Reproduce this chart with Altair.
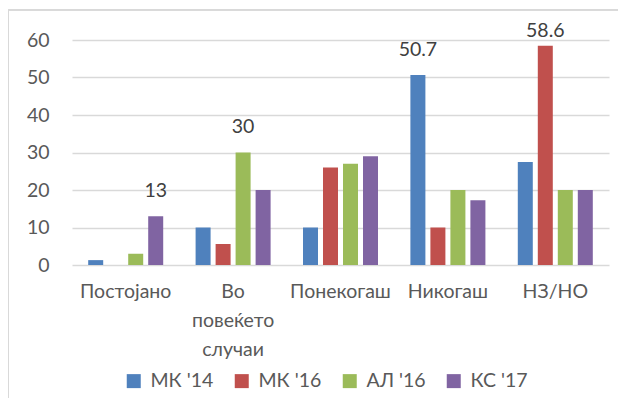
import altair as alt
import pandas as pd

categories = ["Постојано", "Во повеќето случаи", "Понекогаш", "Никогаш", "НЗ/НО"]
series = ["МК '14", "МК '16", "АЛ '16", "КС '17"]
mk14 = [1.3, 10, 10, 50.7, 27.5]
mk16 = [0, 5.6, 26, 10, 58.5]
al16 = [3, 30, 27, 20, 20]
ks17 = [13, 20, 29, 17.3, 20]
shown_labels = [("Постојано", "КС '17", "13"), ("Во повеќето случаи", "АЛ '16", "30"),
                ("Никогаш", "МК '14", "50.7"), ("НЗ/НО", "МК '16", "58.6")]
colors = ["#4F81BD", "#C0504D", "#9BBB59", "#8064A2"]

rows = []
for s, vals in zip(series, [mk14, mk16, al16, ks17]):
    for c, v in zip(categories, vals):
        lab = ""
        for (lc, ls, lt) in shown_labels:
            if lc == c and ls == s:
                lab = lt
        rows.append({"cat": c, "series": s, "value": v, "label": lab})
df = pd.DataFrame(rows)

FONT = "Lato"
FS = 19.5
x = alt.X("cat:N", sort=categories, title=None,
          scale=alt.Scale(paddingInner=0.255, paddingOuter=0.1275),
          axis=alt.Axis(labelAngle=0, labelFontSize=FS, labelColor="#595959", labelFont=FONT,
                        ticks=False, domain=False, labelPadding=17, labelLineHeight=29,
                        labelLimit=200,
                        labelExpr="datum.value == 'Во повеќето случаи' ? ['Во', 'повеќето', 'случаи'] : datum.value"))
xoff = alt.XOffset("series:N", sort=series,
                   scale=alt.Scale(paddingInner=0.25, paddingOuter=0.125))
yscale = alt.Scale(domain=[0, 60], nice=False)
yaxis = alt.Axis(values=[0, 10, 20, 30, 40, 50, 60], labelFontSize=FS, labelColor="#595959",
                 labelFont=FONT, ticks=False, domain=False, labelPadding=23,
                 gridColor="#d9d9d9", gridWidth=1.3)

bars = alt.Chart(df).mark_bar().encode(
    x=x, xOffset=xoff, y=alt.Y("value:Q", title=None, scale=yscale, axis=yaxis),
    color=alt.Color("series:N", sort=series, scale=alt.Scale(domain=series, range=colors),
                    legend=alt.Legend(title=None, orient="none", direction="horizontal",
                                      legendX=52, legendY=331, symbolType="square", symbolSize=196,
                                      symbolStrokeWidth=0, labelFontSize=FS, labelColor="#595959",
                                      labelFont=FONT, columnPadding=18, labelOffset=7))
)

# labels sit above the bar, kept inside the chart area (as in the original)
text = alt.Chart(df).transform_filter("datum.label != ''").transform_calculate(
    lpos="min(datum.value + 6.67, 62.5)"
).mark_text(
    fontSize=FS, color="#404040", font=FONT, baseline="middle"
).encode(x=x, xOffset=xoff,
         y=alt.Y("lpos:Q", title=None, scale=yscale, axis=yaxis),
         text="label:N")

border_left = alt.Chart(df).mark_rule(color="#d9d9d9", strokeWidth=1).encode(
    x=alt.value(-63.5), y=alt.value(-30), y2=alt.value(370))
border_top = alt.Chart(df).mark_rule(color="#d9d9d9", strokeWidth=1).encode(
    x=alt.value(-63.5), x2=alt.value(560), y=alt.value(-30))

chart = alt.layer(bars, text, border_left, border_top).properties(
    width=537, height=225,
    autosize=alt.AutoSizeParams(type="none"),
    padding={"left": 64, "top": 32, "right": 9, "bottom": 133},
).configure_view(stroke=None)

chart.save("out.html", embed_options={"renderer": "svg", "actions": False})
